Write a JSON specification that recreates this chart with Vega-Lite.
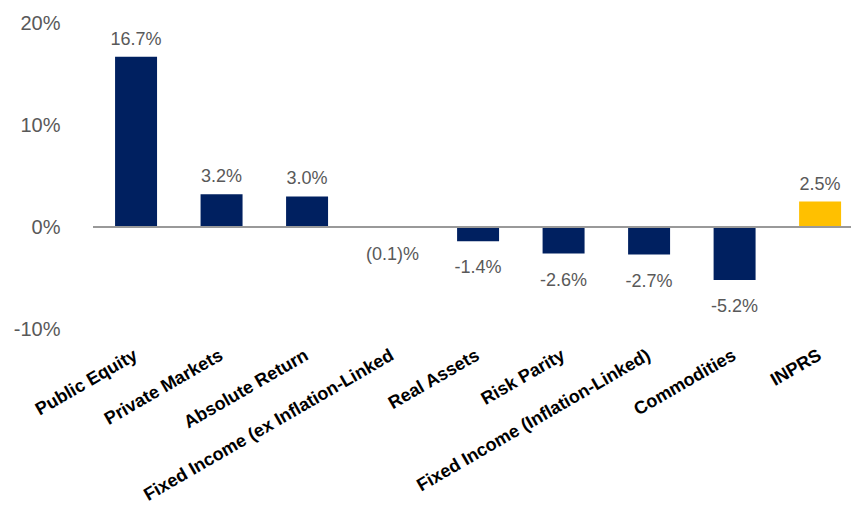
{
  "$schema": "https://vega.github.io/schema/vega-lite/v6.json",
  "autosize": "none",
  "width": 758,
  "height": 306,
  "padding": {"left": 93, "top": 23, "right": 0, "bottom": 181},
  "background": "white",
  "config": {"view": {"stroke": null}, "font": "Liberation Sans"},
  "data": {"values": [
    {"category": "Public Equity", "value": 16.7, "label": "16.7%", "group": "asset"},
    {"category": "Private Markets", "value": 3.2, "label": "3.2%", "group": "asset"},
    {"category": "Absolute Return", "value": 3.0, "label": "3.0%", "group": "asset"},
    {"category": "Fixed Income (ex Inflation-Linked", "value": -0.1, "label": "(0.1)%", "group": "asset"},
    {"category": "Real Assets", "value": -1.4, "label": "-1.4%", "group": "asset"},
    {"category": "Risk Parity", "value": -2.6, "label": "-2.6%", "group": "asset"},
    {"category": "Fixed Income (Inflation-Linked)", "value": -2.7, "label": "-2.7%", "group": "asset"},
    {"category": "Commodities", "value": -5.2, "label": "-5.2%", "group": "asset"},
    {"category": "INPRS", "value": 2.5, "label": "2.5%", "group": "total"}
  ]},
  "encoding": {
    "x": {
      "field": "category", "type": "nominal", "sort": null,
      "scale": {"paddingInner": 0.509, "paddingOuter": 0.187, "align": 0.69},
      "axis": {
        "title": null, "domain": false, "ticks": false, "labelAngle": -30,
        "labelAlign": "right", "labelBaseline": "middle", "labelPadding": 25,
        "labelFontSize": 18, "labelFontWeight": "bold", "labelColor": "#000000",
        "labelLimit": 400, "labelOverlap": false
      }
    },
    "y": {
      "field": "value", "type": "quantitative",
      "scale": {"domain": [-10, 20], "nice": false, "zero": true},
      "axis": {
        "title": null, "domain": false, "ticks": false, "grid": false,
        "values": [-10, 0, 10, 20], "labelExpr": "datum.value + '%'",
        "labelFontSize": 20, "labelColor": "#595959", "labelPadding": 33
      }
    }
  },
  "layer": [
    {
      "mark": {"type": "bar"},
      "encoding": {
        "color": {
          "field": "group", "type": "nominal", "legend": null,
          "scale": {"domain": ["asset", "total"], "range": ["#002060", "#FFC000"]}
        }
      }
    },
    {
      "mark": {"type": "rule", "color": "#999999", "strokeWidth": 2},
      "data": {"values": [{"zero": 0}]},
      "encoding": {"y": {"field": "zero", "type": "quantitative"}, "x": null}
    },
    {
      "transform": [{"filter": "datum.value >= 0"}],
      "mark": {"type": "text", "baseline": "bottom", "dy": -8, "fontSize": 18, "color": "#595959"},
      "encoding": {"text": {"field": "label"}}
    },
    {
      "transform": [{"filter": "datum.value < 0"}],
      "mark": {"type": "text", "baseline": "top", "dy": 18, "fontSize": 18, "color": "#595959"},
      "encoding": {"text": {"field": "label"}}
    }
  ]
}
